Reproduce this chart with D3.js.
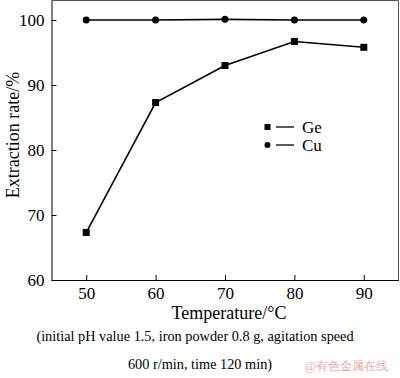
<!DOCTYPE html>
<html><head><meta charset="utf-8">
<script src="https://cdn.jsdelivr.net/npm/d3@7/dist/d3.min.js"></script>
<style>body{margin:0;background:#fff}svg{display:block}text{font-family:"Liberation Serif","Times New Roman",serif;fill:#000}</style>
</head><body>
<script>
const temperatures = [50, 60, 70, 80, 90];
const geValues = [67.3, 87.3, 93.0, 96.7, 95.8];
const cuValues = [100.0, 100.0, 100.1, 100.0, 100.0];
const xTicks = [50, 60, 70, 80, 90];
const yTicks = [60, 70, 80, 90, 100];
const seriesNames = ["Ge", "Cu"];
const xTitle = "Temperature/°C";
const yTitle = "Extraction rate/%";
const caption1 = "(initial pH value 1.5, iron powder 0.8 g, agitation speed";
const caption2 = "600 r/min, time 120 min)";
const watermark = "@有色金属在线";

const W = 400, H = 378;
const svg = d3.select("body").append("svg").attr("width", W).attr("height", H);
const x = d3.scaleLinear().domain([45, 95]).range([51.5, 398.5]);
const y = d3.scaleLinear().domain([60, 103]).range([280, 0.5]);

// frame
svg.append("line").attr("x1", 51.5).attr("x2", 398.5).attr("y1", 0.5).attr("y2", 0.5).attr("stroke", "#555");
svg.append("line").attr("x1", 398.5).attr("x2", 398.5).attr("y1", 0.5).attr("y2", 280).attr("stroke", "#555");

const xAxis = svg.append("g").attr("transform", "translate(0,280)")
  .call(d3.axisBottom(x).tickValues(xTicks).tickSizeInner(-5).tickSizeOuter(0).tickPadding(6));
xAxis.select(".domain").attr("stroke", "#000");
xAxis.selectAll("text").attr("font-size", 17).attr("font-family", "Liberation Serif").attr("dy", "0.74em");

const yAxis = svg.append("g").attr("transform", "translate(51.5,0)")
  .call(d3.axisLeft(y).tickValues(yTicks).tickSizeInner(-5).tickSizeOuter(0).tickPadding(7));
yAxis.select(".domain").attr("stroke", "#000");
yAxis.selectAll("text").attr("font-size", 17).attr("font-family", "Liberation Serif");

const line = d3.line().x((d, i) => x(temperatures[i])).y(d => y(d));
svg.append("path").datum(cuValues).attr("d", line).attr("fill", "none").attr("stroke", "#000").attr("stroke-width", 1.6);
svg.append("path").datum(geValues).attr("d", line).attr("fill", "none").attr("stroke", "#000").attr("stroke-width", 1.6);

svg.selectAll(".cu").data(cuValues).enter().append("circle")
  .attr("cx", (d, i) => x(temperatures[i])).attr("cy", d => y(d)).attr("r", 3.5).attr("fill", "#000");
svg.selectAll(".ge").data(geValues).enter().append("rect")
  .attr("x", (d, i) => x(temperatures[i]) - 3.5).attr("y", d => y(d) - 3.5).attr("width", 7).attr("height", 7).attr("fill", "#000");

// legend
const lg = svg.append("g");
lg.append("rect").attr("x", 264.5).attr("y", 124).attr("width", 6).attr("height", 6).attr("fill", "#000");
lg.append("line").attr("x1", 276).attr("x2", 294).attr("y1", 127).attr("y2", 127).attr("stroke", "#000").attr("stroke-width", 1.3);
lg.append("text").attr("x", 302).attr("y", 133).attr("font-size", 17).text(seriesNames[0]);
lg.append("circle").attr("cx", 267.5).attr("cy", 145).attr("r", 3).attr("fill", "#000");
lg.append("line").attr("x1", 276).attr("x2", 294).attr("y1", 145).attr("y2", 145).attr("stroke", "#000").attr("stroke-width", 1.3);
lg.append("text").attr("x", 302).attr("y", 151).attr("font-size", 17).text(seriesNames[1]);

svg.append("text").attr("x", 229).attr("y", 318.5).attr("text-anchor", "middle").attr("font-size", 18).text(xTitle);
svg.append("text").attr("transform", "translate(13,135) rotate(-90)").attr("text-anchor", "middle").attr("dy", "0.35em").attr("font-size", 18).text(yTitle);
svg.append("text").attr("x", 195).attr("y", 341).attr("text-anchor", "middle").attr("font-size", 14.3).text(caption1);
svg.append("text").attr("x", 200).attr("y", 369).attr("text-anchor", "middle").attr("font-size", 14.3).text(caption2);
svg.append("text").attr("x", 305).attr("y", 370).attr("font-size", 12).style("fill", "#eaa8a8").attr("font-family", "Noto Sans CJK SC").text(watermark);
</script>
</body></html>
